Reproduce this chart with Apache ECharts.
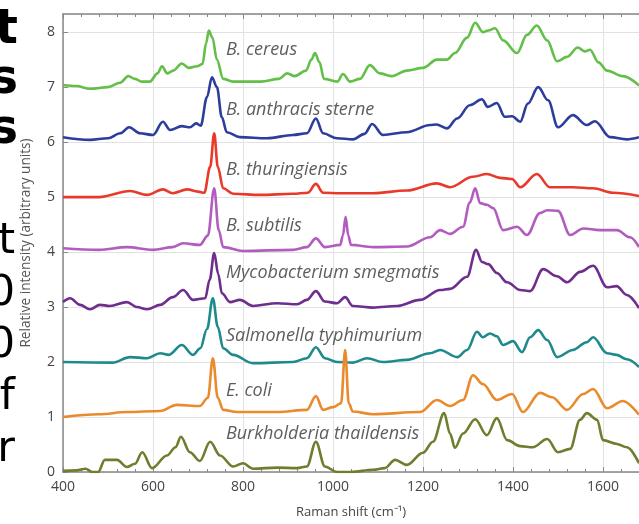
<!DOCTYPE html>
<html>
<head>
    <meta charset="utf-8">
    <title>Raman spectra</title>
    <script src="https://cdn.jsdelivr.net/npm/echarts@6/dist/echarts.min.js"></script>
    <style>
        html, body { margin: 0; padding: 0; background: #fff; }
    </style>
</head>
<body>
<div id="main" style="width: 639px;height:524px;"></div>
<script type="text/javascript">
    // spectra, [Raman shift, offset intensity]
    var cereus = [[400,7.04],[430,7.02],[460,6.97],[500,7.0],[527,7.08],[545,7.2],[560,7.15],[575,7.1],[593,7.1],[610,7.25],[620,7.38],[632,7.25],[645,7.3],[664,7.43],[680,7.35],[698,7.38],[710,7.42],[718,7.8],[724,8.03],[732,7.9],[742,7.5],[756,7.15],[778,7.1],[840,7.1],[880,7.15],[898,7.25],[915,7.2],[940,7.3],[952,7.5],[960,7.62],[970,7.45],[980,7.15],[1010,7.1],[1022,7.24],[1038,7.1],[1060,7.15],[1082,7.4],[1104,7.25],[1130,7.2],[1164,7.3],[1200,7.35],[1231,7.5],[1253,7.5],[1271,7.62],[1298,7.9],[1316,8.17],[1333,8.0],[1345,8.03],[1360,8.07],[1378,7.85],[1409,7.62],[1431,7.95],[1453,8.12],[1476,7.85],[1498,7.47],[1520,7.55],[1544,7.72],[1560,7.65],[1571,7.68],[1590,7.45],[1609,7.3],[1644,7.2],[1680,7.03]];
    var anthracis = [[400,6.09],[460,6.04],[500,6.07],[527,6.16],[547,6.27],[571,6.16],[600,6.13],[622,6.37],[638,6.22],[664,6.29],[682,6.27],[696,6.34],[706,6.3],[720,6.82],[731,7.18],[742,7.0],[753,6.45],[764,6.18],[793,6.09],[853,6.07],[911,6.13],[942,6.16],[962,6.43],[978,6.16],[1009,6.07],[1044,6.05],[1070,6.15],[1087,6.33],[1111,6.13],[1164,6.18],[1216,6.31],[1230,6.32],[1253,6.25],[1276,6.43],[1304,6.67],[1331,6.78],[1344,6.64],[1364,6.71],[1382,6.46],[1398,6.47],[1416,6.37],[1433,6.7],[1456,7.0],[1478,6.76],[1500,6.27],[1533,6.49],[1564,6.31],[1582,6.38],[1616,6.09],[1653,6.05],[1680,6.09]];
    var thuringiensis = [[400,5.0],[480,5.0],[549,5.11],[587,5.04],[622,5.14],[644,5.07],[676,5.14],[700,5.1],[714,5.08],[727,5.55],[736,6.16],[744,5.55],[756,5.16],[778,5.06],[838,5.04],[911,5.06],[944,5.08],[962,5.24],[978,5.08],[1016,5.07],[1089,5.07],[1164,5.12],[1231,5.25],[1260,5.18],[1311,5.37],[1342,5.42],[1371,5.35],[1398,5.33],[1416,5.18],[1453,5.42],[1482,5.18],[1533,5.18],[1578,5.16],[1622,5.08],[1680,5.02]];
    var subtilis = [[400,4.07],[480,4.04],[542,4.09],[600,4.04],[644,4.09],[667,4.16],[704,4.13],[722,4.3],[736,5.16],[746,4.4],[756,4.09],[800,4.02],[911,4.04],[942,4.09],[962,4.25],[982,4.09],[1016,4.13],[1022,4.3],[1028,4.64],[1034,4.3],[1040,4.13],[1089,4.09],[1164,4.1],[1216,4.27],[1238,4.4],[1260,4.33],[1289,4.46],[1304,4.9],[1316,5.16],[1327,4.89],[1342,4.86],[1356,4.8],[1378,4.4],[1409,4.46],[1431,4.31],[1460,4.71],[1476,4.76],[1500,4.75],[1527,4.31],[1556,4.43],[1593,4.4],[1631,4.4],[1660,4.27],[1680,4.09]];
    var smegmatis = [[400,3.09],[416,3.16],[438,3.04],[460,2.96],[482,3.04],[504,3.02],[542,3.09],[564,3.0],[587,2.96],[616,3.04],[644,3.18],[667,3.31],[689,3.13],[716,3.16],[726,3.5],[736,3.98],[745,3.6],[753,3.25],[771,3.09],[793,3.13],[822,3.02],[876,3.07],[920,3.05],[942,3.13],[962,3.29],[982,3.1],[1009,3.07],[1027,3.18],[1044,3.02],[1089,2.99],[1142,3.02],[1193,3.13],[1238,3.31],[1260,3.33],[1298,3.55],[1318,4.04],[1331,3.82],[1345,3.78],[1364,3.62],[1387,3.45],[1416,3.31],[1438,3.29],[1467,3.69],[1498,3.56],[1520,3.45],[1549,3.64],[1578,3.75],[1609,3.36],[1630,3.38],[1653,3.22],[1680,2.98]];
    var typhimurium = [[400,2.0],[510,1.99],[549,2.09],[587,2.07],[616,2.16],[635,2.13],[664,2.31],[689,2.13],[705,2.25],[720,2.6],[733,3.16],[744,2.64],[756,2.25],[778,2.13],[822,1.98],[911,2.0],[942,2.07],[962,2.27],[982,2.07],[1009,2.0],[1044,1.99],[1076,2.07],[1111,2.0],[1164,2.04],[1216,2.16],[1238,2.22],[1276,2.09],[1298,2.22],[1320,2.55],[1333,2.45],[1349,2.52],[1364,2.47],[1378,2.31],[1400,2.38],[1420,2.18],[1438,2.45],[1456,2.58],[1476,2.4],[1498,2.09],[1533,2.22],[1564,2.36],[1578,2.45],[1609,2.16],[1630,2.13],[1653,2.05],[1680,1.91]];
    var ecoli = [[400,1.0],[480,1.05],[542,1.09],[616,1.11],[653,1.22],[704,1.2],[722,1.35],[733,2.07],[744,1.35],[756,1.13],[787,1.09],[876,1.09],[942,1.13],[962,1.38],[978,1.13],[1000,1.18],[1018,1.25],[1027,2.22],[1035,1.25],[1044,1.1],[1089,1.05],[1193,1.09],[1231,1.31],[1260,1.2],[1289,1.31],[1311,1.76],[1333,1.6],[1364,1.31],[1398,1.42],[1422,1.09],[1460,1.44],[1487,1.36],[1520,1.13],[1556,1.42],[1578,1.51],[1609,1.16],[1644,1.29],[1680,1.04]];
    var thaildensis = [[400,0.02],[430,0.03],[450,0.06],[465,0.0],[478,0.0],[493,0.22],[520,0.22],[542,0.09],[560,0.15],[576,0.36],[598,0.07],[631,0.3],[650,0.45],[662,0.64],[682,0.36],[704,0.2],[727,0.55],[749,0.3],[778,0.1],[800,0.16],[822,0.06],[876,0.08],[920,0.07],[942,0.1],[962,0.55],[982,0.1],[1009,0.0],[1040,0.0],[1089,0.04],[1115,0.07],[1138,0.22],[1164,0.13],[1200,0.35],[1222,0.55],[1247,1.07],[1260,0.7],[1271,0.44],[1289,0.7],[1316,0.96],[1342,0.67],[1364,0.98],[1387,0.58],[1416,0.47],[1444,0.45],[1476,0.6],[1500,0.36],[1527,0.42],[1549,0.95],[1564,1.07],[1587,0.95],[1600,0.58],[1631,0.51],[1653,0.45],[1680,0.16]];

    var spectra = [cereus, anthracis, thuringiensis, subtilis, smegmatis, typhimurium, ecoli, thaildensis];
    var names = ['B. cereus', 'B. anthracis sterne', 'B. thuringiensis', 'B. subtilis',
        'Mycobacterium smegmatis', 'Salmonella typhimurium', 'E. coli', 'Burkholderia thaildensis'];
    var colors = ['#62bf48', '#2c3d9b', '#e8392b', '#b35cbf', '#6e2e8e', '#1f8a8b', '#e98a2d', '#6d7e2e'];
    // where the names sit (shift, intensity)
    var labelX = 762;
    var labelY = [7.67, 6.58, 5.49, 4.47, 3.62, 2.47, 1.47, 0.69];
    // cut-off text at the left edge of the page
    var sideBold = ['t', 's', 's'];
    var sideText = ['t', '0', '0', 'f', 'r'];

    var myChart = echarts.init(document.getElementById('main'));

    var series = spectra.map(function (d, i) {
        return {
            name: names[i],
            type: 'line',
            data: d,
            symbol: 'none',
            smooth: 0.35,
            smoothMonotone: 'x',
            lineStyle: {color: colors[i], width: 2.6},
            z: 3
        };
    });
    series.push({
        type: 'scatter',
        symbolSize: 0,
        silent: true,
        data: labelY.map(function (y, i) { return [labelX, y, names[i]]; }),
        label: {
            show: true,
            position: 'right',
            distance: 0,
            formatter: function (p) { return p.value[2]; },
            fontFamily: 'Open Sans',
            fontStyle: 'italic',
            fontSize: 18,
            color: '#353535'
        },
        z: 4
    });

    var graphics = [];
    sideBold.forEach(function (t, i) {
        graphics.push({type: 'text', x: 18, y: 31 + i * 50,
            style: {text: t, font: 'bold 48px "DejaVu Sans"', fill: '#000', align: 'right', verticalAlign: 'middle'}});
    });
    sideText.forEach(function (t, i) {
        graphics.push({type: 'text', x: 15, y: 242 + i * 52,
            style: {text: t, font: '43px "DejaVu Sans"', fill: '#000', align: 'right', verticalAlign: 'middle'}});
    });

    var tickStyle = {color: '#888'};
    option = {
        animation: false,
        grid: {left: 63, right: 0, top: 14, bottom: 52},
        graphic: graphics,
        xAxis: [{
            type: 'value',
            min: 400,
            max: 1680,
            interval: 200,
            name: 'Raman shift (cm\u207B\u00B9)',
            nameLocation: 'middle',
            nameGap: 34,
            nameTextStyle: {fontFamily: 'Open Sans', fontSize: 13, color: '#444'},
            axisLine: {lineStyle: {color: '#888', width: 1.5}},
            axisTick: {inside: true, length: 5, lineStyle: tickStyle},
            minorTick: {show: true, splitNumber: 5, length: 3, lineStyle: tickStyle},
            axisLabel: {fontFamily: 'Open Sans', fontSize: 14, color: '#444', margin: 8, showMaxLabel: false,
                formatter: function (v) { return String(v); }},
            splitLine: {show: true, lineStyle: {color: '#e2e2e2'}}
        }, {
            type: 'value',
            position: 'top',
            min: 400,
            max: 1680,
            interval: 200,
            axisLine: {lineStyle: {color: '#888', width: 1.5}},
            axisTick: {inside: true, length: 5, lineStyle: tickStyle},
            minorTick: {show: true, splitNumber: 5, length: 3, lineStyle: tickStyle},
            axisLabel: {show: false},
            splitLine: {show: false}
        }],
        yAxis: {
            type: 'value',
            min: 0,
            max: 8.33,
            interval: 1,
            name: 'Relative intensity (arbitrary units)',
            nameLocation: 'middle',
            nameGap: 30,
            nameTextStyle: {fontFamily: 'Open Sans', fontSize: 13.6, color: '#555'},
            axisLine: {show: true, lineStyle: {color: '#888', width: 1.5}},
            axisTick: {show: true, inside: true, length: 5, lineStyle: tickStyle},
            axisLabel: {fontFamily: 'Open Sans', fontSize: 14, color: '#444', margin: 8, showMaxLabel: false},
            splitLine: {show: true, lineStyle: {color: '#e2e2e2'}}
        },
        series: series
    };

    myChart.setOption(option);
</script>
</body>
</html>
